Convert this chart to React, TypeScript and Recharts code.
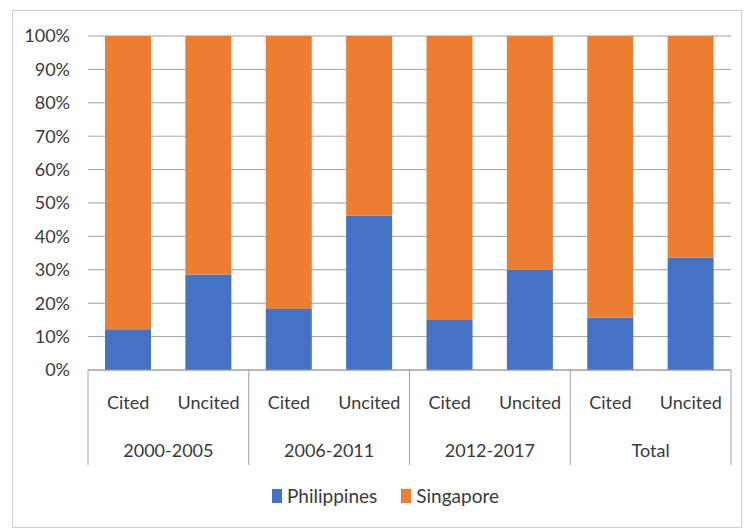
import React from "react";
import { BarChart, Bar, XAxis, YAxis, CartesianGrid, Legend } from "recharts";

const periods = ["2000-2005", "2006-2011", "2012-2017", "Total"];
const citation = ["Cited", "Uncited"];
const philippines = [12.2, 28.6, 18.3, 46.2, 15.0, 30.0, 15.7, 33.7];
const singapore = [87.8, 71.4, 81.7, 53.8, 85.0, 70.0, 84.3, 66.3];
const yTicks = [0, 10, 20, 30, 40, 50, 60, 70, 80, 90, 100];

const chartData = philippines.map((p, i) => ({
  key: `${periods[Math.floor(i / 2)]}|${citation[i % 2]}`,
  sub: citation[i % 2],
  group: periods[Math.floor(i / 2)],
  Philippines: p,
  Singapore: singapore[i],
}));

const W = 745;
const H = 531;
const LEFT = 88;
const RIGHT = 14;
const BAND = (W - LEFT - RIGHT) / chartData.length;
const FONT = "Lato, 'Noto Sans', sans-serif";
const TEXT = "#3A3A3A";
const LINE = "#A0A0A0";
const BLUE = "#4472C4";
const ORANGE = "#ED7D31";

// two-level category labels with group separators
const CategoryTick = (props: any) => {
  const { x, y, index } = props;
  const row = chartData[index];
  const first = index % 2 === 0;
  return (
    <g>
      <text x={x} y={y + 39} textAnchor="middle" fill={TEXT} fontSize={18} fontFamily={FONT}>
        {row.sub}
      </text>
      {first && (
        <>
          <line x1={x - BAND / 2} x2={x - BAND / 2} y1={y} y2={y + 95} stroke={LINE} />
          <text x={x + BAND / 2} y={y + 87} textAnchor="middle" fill={TEXT} fontSize={18} fontFamily={FONT}>
            {row.group}
          </text>
        </>
      )}
      {index === chartData.length - 1 && (
        <line x1={x + BAND / 2} x2={x + BAND / 2} y1={y} y2={y + 95} stroke={LINE} />
      )}
    </g>
  );
};

const LegendContent = () => (
  <div style={{ display: "flex", paddingLeft: 272, gap: 24, fontFamily: FONT, fontSize: 19, color: TEXT }}>
    {[
      ["Philippines", BLUE],
      ["Singapore", ORANGE],
    ].map(([name, color]) => (
      <span key={name} style={{ display: "flex", alignItems: "center" }}>
        <span style={{ width: 10, height: 14, background: color, marginRight: 5, display: "inline-block" }} />
        {name}
      </span>
    ))}
  </div>
);

const App: React.FC = () => {
  return (
    <div style={{ position: "absolute", left: 0, top: 0, width: W, height: H, background: "#fff" }}>
      <div
        style={{
          position: "absolute",
          left: 12,
          top: 10,
          width: 728,
          height: 516,
          border: "1px solid #CFCFCF",
        }}
      />
      <BarChart
        width={W}
        height={H}
        data={chartData}
        margin={{ top: 36, right: RIGHT, bottom: 61, left: 0 }}
        style={{ position: "absolute", left: 0, top: 0 }}
      >
        <CartesianGrid vertical={false} stroke={LINE} />
        <YAxis
          width={LEFT}
          domain={[0, 100]}
          ticks={yTicks}
          tickFormatter={(v: number) => `${v}%`}
          axisLine={false}
          tickLine={false}
          tickMargin={12}
          tick={{ fill: TEXT, fontSize: 18, fontFamily: FONT }}
        />
        <XAxis
          dataKey="key"
          height={100}
          axisLine={{ stroke: LINE }}
          tickLine={false}
          tickSize={0}
          tickMargin={0}
          interval={0}
          tick={<CategoryTick />}
        />
        <Legend
          layout="horizontal"
          verticalAlign="middle"
          content={<LegendContent />}
          wrapperStyle={{ top: 484, left: 0, width: W }}
        />
        <Bar dataKey="Philippines" stackId="a" fill={BLUE} barSize={46} isAnimationActive={false} />
        <Bar dataKey="Singapore" stackId="a" fill={ORANGE} barSize={46} isAnimationActive={false} />
      </BarChart>
    </div>
  );
};

export default App;
